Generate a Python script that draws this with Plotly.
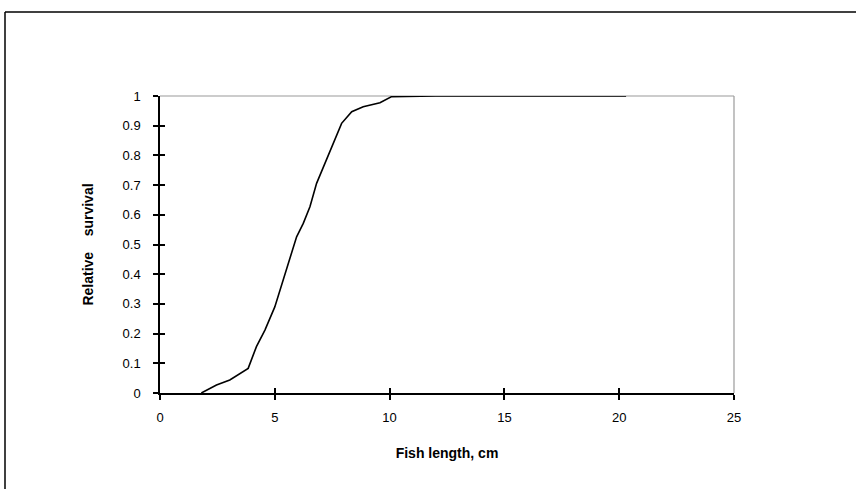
import plotly.graph_objects as go

fish_length = [1.8, 2.46, 3.04, 3.84, 4.2, 4.57, 5.0, 5.37, 5.8, 5.95, 6.24, 6.53, 6.82, 7.18, 7.55, 7.91, 8.35, 8.85, 9.58, 10.09, 12.0, 15.0, 18.0, 20.3]
survival = [0.0, 0.027, 0.044, 0.083, 0.156, 0.212, 0.29, 0.38, 0.49, 0.526, 0.571, 0.627, 0.706, 0.773, 0.846, 0.908, 0.947, 0.964, 0.977, 0.998, 1.0, 1.0, 1.0, 1.0]

x_ticks = [0, 5, 10, 15, 20, 25]
y_ticks = [0, 0.1, 0.2, 0.3, 0.4, 0.5, 0.6, 0.7, 0.8, 0.9, 1]
y_tick_labels = ["0", "0.1", "0.2", "0.3", "0.4", "0.5", "0.6", "0.7", "0.8", "0.9", "1"]

W, H = 856, 489
L, R, T, B = 160, 122, 96, 96
pw, ph = W - L - R, H - T - B

tick_font = dict(family="Liberation Sans, Arial, sans-serif", size=13, color="#000")
title_font = dict(family="Liberation Sans, Arial, sans-serif", size=14, color="#000")

fig = go.Figure()
fig.add_trace(go.Scatter(x=fish_length, y=survival, mode="lines",
                         line=dict(color="#000", width=1.6), showlegend=False))
fig.add_trace(go.Scatter(x=[0], y=[0], xaxis="x2", yaxis="y2", mode="markers",
                         marker=dict(opacity=0), showlegend=False, hoverinfo="skip"))

fig.update_layout(
    width=W, height=H,
    margin=dict(l=L, r=R, t=T, b=B),
    paper_bgcolor="white", plot_bgcolor="white",
    font=tick_font,
    xaxis=dict(range=[0, 25], tickvals=x_ticks, ticks="outside", ticklen=5, tickwidth=1.5,
               tickcolor="#000", showline=True, linecolor="#000", linewidth=1.5,
               showgrid=False, zeroline=False, tickfont=tick_font, ticklabelstandoff=7,
               title=dict(text="<b>Fish length, cm</b>", font=title_font, standoff=24)),
    yaxis=dict(range=[0, 1], tickvals=y_ticks, ticktext=y_tick_labels, ticks="outside",
               ticklen=5, tickwidth=1.5, tickcolor="#000", showline=True, linecolor="#000",
               linewidth=1.5, showgrid=False, zeroline=False, tickfont=tick_font,
               ticklabelstandoff=10,
               title=dict(text="<b>Relative&nbsp;&nbsp;&nbsp;&nbsp;survival</b>", font=title_font, standoff=26)),
    xaxis2=dict(range=[0, 25], tickvals=x_ticks, ticks="inside", ticklen=5, tickwidth=1.5,
                tickcolor="#000", overlaying="x", side="bottom", showticklabels=False,
                showgrid=False, zeroline=False, showline=False),
    yaxis2=dict(range=[0, 1], tickvals=y_ticks, ticks="inside", ticklen=5, tickwidth=1.5,
                tickcolor="#000", overlaying="y", side="left", showticklabels=False,
                showgrid=False, zeroline=False, showline=False),
)

fig.add_shape(type="line", xref="paper", yref="paper", x0=0, y0=1, x1=1, y1=1,
              line=dict(color="#9a9a9a", width=1.2), layer="below")
fig.add_shape(type="line", xref="paper", yref="paper", x0=1, y0=0, x1=1, y1=1,
              line=dict(color="#9a9a9a", width=1.2), layer="below")

px = lambda p: (p - L) / pw
py = lambda p: (H - B - p) / ph
fig.add_shape(type="line", xref="paper", yref="paper", x0=px(5), y0=py(12), x1=px(W), y1=py(12),
              line=dict(color="#000", width=1.5))
fig.add_shape(type="line", xref="paper", yref="paper", x0=px(5), y0=py(12), x1=px(5), y1=py(H),
              line=dict(color="#000", width=1.5))

fig.write_html("out.html")
